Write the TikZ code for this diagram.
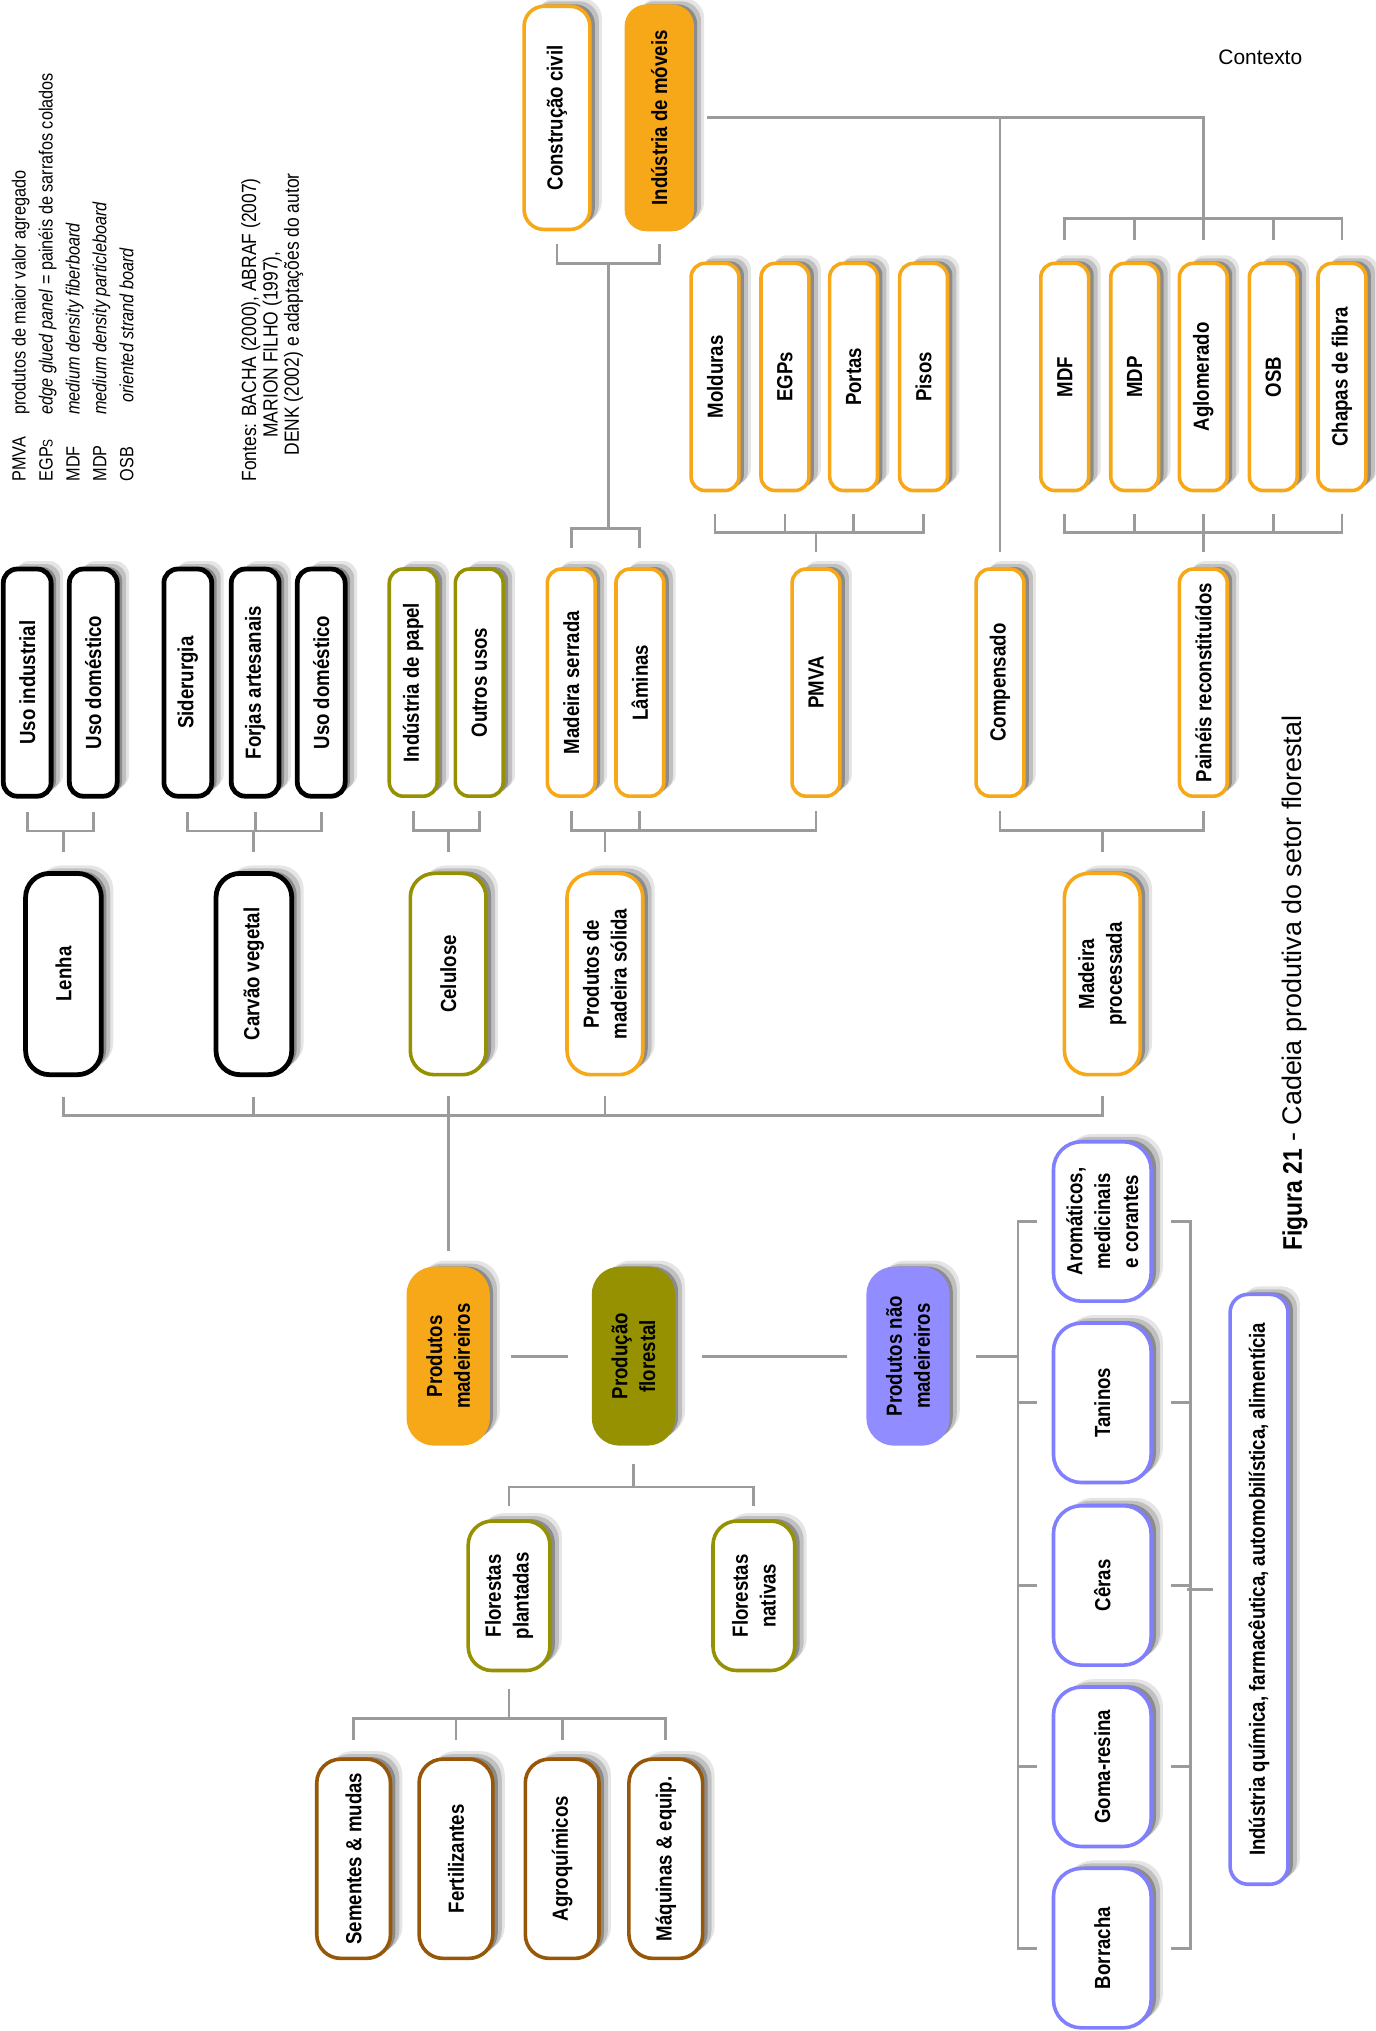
\documentclass[tikz,border=0pt]{standalone}
\usepackage{fontspec}
\setmainfont{Liberation Sans}
\newfontfamily\boxfont[FakeStretch=0.85]{Liberation Sans}
\usepackage{tikz}
\usetikzlibrary{calc,shadows}

\definecolor{laranja}{RGB}{247,168,24}
\definecolor{oliva}{RGB}{150,145,0}
\definecolor{lilas}{RGB}{145,140,255}
\definecolor{lilasb}{RGB}{128,128,255}
\definecolor{marrom}{RGB}{150,88,8}
\definecolor{linha}{RGB}{155,155,155}

\begin{document}
\begin{tikzpicture}[x=0.65pt, y=-0.65pt,
  box/.style={draw, line width=1.8pt, rounded corners=7pt, fill=white, rotate=90,
              align=center, inner sep=1pt, font=\boxfont\bfseries\fontsize{11}{14}\selectfont,
              drop shadow={shadow xshift=6pt, shadow yshift=4pt, opacity=.1, fill=black},
              drop shadow={shadow xshift=4.5pt, shadow yshift=2.5pt, opacity=.16, fill=black},
              drop shadow={shadow xshift=2.5pt, shadow yshift=1pt, opacity=.28, fill=black}},
  szA/.style={minimum width=112pt, minimum height=33pt, rounded corners=10pt},
  szB/.style={minimum width=114pt, minimum height=24pt},
  szC/.style={minimum width=101pt, minimum height=38pt, rounded corners=12pt},
  szD/.style={minimum width=88pt, minimum height=40pt, rounded corners=13pt},
  szF/.style={minimum width=75pt, minimum height=41pt, rounded corners=12pt},
  szI/.style={minimum width=100pt, minimum height=37pt, rounded corners=12pt},
  szP/.style={minimum width=80pt, minimum height=49pt, rounded corners=14pt},
  szL/.style={minimum width=296pt, minimum height=29pt, rounded corners=9pt},
  preto/.style={draw=black, line width=2.4pt},
  conn/.style={draw=linha, line width=1.4pt},
  legenda/.style={rotate=90, inner sep=0pt, font=\boxfont\fontsize{9.6}{13.5}\selectfont}
]
\useasboundingbox (0,0) rectangle (1062,1568);

% siglas e fontes
\node[legenda, anchor=north west] (siglas) at (5,372) {%
  \begin{tabular}{@{}l@{\hspace{11pt}}l@{}}
  PMVA & produtos de maior valor agregado\\
  EGP{\scriptsize S} & \textit{edge glued panel} = painéis de sarrafos colados\\
  MDF & \textit{medium density fiberboard}\\
  MDP & \textit{medium density particleboard}\\
  OSB & \hspace{6pt}\textit{oriented strand board}
  \end{tabular}};
\node[legenda, anchor=north west, align=left, font=\boxfont\fontsize{10.3}{10.7}\selectfont] (fontes) at (186,372)
  {Fontes: BACHA (2000), ABRAF (2007)\\ \hspace*{22pt}MARION FILHO (1997),\\ \hspace*{13pt}DENK (2002) e adaptações do autor};

\node[font=\fontsize{10.5}{12}\selectfont] (contexto) at (973,44) {Contexto};
\node[rotate=90, anchor=base west, inner sep=0pt, font=\fontsize{13.5}{16}\selectfont] (titulo) at (1005,966)
  {{\boxfont\bfseries Figura 21} - Cadeia produtiva do setor florestal};

% contexto
\node[box, szA, draw=laranja] (consciv) at (430,91) {Construção civil};
\node[box, szA, draw=laranja, fill=laranja] (indmov) at (509,91) {Indústria de móveis};

% produtos finais
\node[box, szB, draw=laranja] (mold) at (552,291) {Molduras};
\node[box, szB, draw=laranja] (egps) at (606,291) {EGPs};
\node[box, szB, draw=laranja] (portas) at (659,291) {Portas};
\node[box, szB, draw=laranja] (pisos) at (713,291) {Pisos};
\node[box, szB, draw=laranja] (mdf) at (822,291) {MDF};
\node[box, szB, draw=laranja] (mdp) at (876,291) {MDP};
\node[box, szB, draw=laranja] (aglom) at (929,291) {Aglomerado};
\node[box, szB, draw=laranja] (osb) at (983,291) {OSB};
\node[box, szB, draw=laranja] (chapas) at (1036,291) {Chapas de fibra};

% usos
\node[box, szB, preto] (usoind) at (21,527) {Uso industrial};
\node[box, szB, preto] (usodom) at (72,527) {Uso doméstico};
\node[box, szB, preto] (sider) at (145,527) {Siderurgia};
\node[box, szB, preto] (forjas) at (197,527) {Forjas artesanais};
\node[box, szB, preto] (usodomb) at (248,527) {Uso doméstico};
\node[box, szB, draw=oliva] (papel) at (319,527) {Indústria de papel};
\node[box, szB, draw=oliva] (outros) at (370,527) {Outros usos};
\node[box, szB, draw=laranja] (madserr) at (441,527) {Madeira serrada};
\node[box, szB, draw=laranja] (laminas) at (494,527) {Lâminas};
\node[box, szB, draw=laranja] (pmva) at (630,527) {PMVA};
\node[box, szB, draw=laranja] (compens) at (772,527) {Compensado};
\node[box, szB, draw=laranja] (paineis) at (929,527) {Painéis reconstituídos};

% produtos madeireiros
\node[box, szC, preto] (lenha) at (49,752) {Lenha};
\node[box, szC, preto] (carvao) at (196,752) {Carvão vegetal};
\node[box, szC, draw=oliva] (celulose) at (346,752) {Celulose};
\node[box, szC, draw=laranja] (pmsolida) at (467,752) {Produtos de\\madeira sólida};
\node[box, szC, draw=laranja] (madproc) at (851,752) {Madeira\\processada};

% producao florestal
\node[box, szD, draw=laranja, fill=laranja] (prodmad) at (346,1047) {Produtos\\madeireiros};
\node[box, szD, draw=oliva, fill=oliva] (prodflor) at (489,1047) {Produção\\florestal};
\node[box, szD, draw=lilas, fill=lilas] (prodnmad) at (701,1047) {Produtos não\\madeireiros};

\node[box, szF, draw=oliva] (florplant) at (393,1232) {Florestas\\plantadas};
\node[box, szF, draw=oliva] (flornat) at (582,1232) {Florestas\\nativas};

\node[box, szI, draw=marrom] (sementes) at (273,1435) {Sementes \& mudas};
\node[box, szI, draw=marrom] (fert) at (352,1435) {Fertilizantes};
\node[box, szI, draw=marrom] (agro) at (434,1435) {Agroquímicos};
\node[box, szI, draw=marrom] (maq) at (514,1435) {Máquinas \& equip.};

% nao madeireiros
\node[box, szP, draw=lilasb] (arom) at (851,943) {Aromáticos,\\medicinais\\e corantes};
\node[box, szP, draw=lilasb] (taninos) at (851,1083) {Taninos};
\node[box, szP, draw=lilasb] (ceras) at (851,1224) {Cêras};
\node[box, szP, draw=lilasb] (goma) at (851,1364) {Goma-resina};
\node[box, szP, draw=lilasb] (borracha) at (851,1504) {Borracha};
\node[box, szL, draw=lilasb] (industria) at (972,1227) {Indústria química, farmacêutica, automobilística, alimentícia};

% ligacoes do contexto
\draw[conn] ($(consciv.west)+(0,10)$) |- ($(indmov.west)+(0,25)$) -- ($(indmov.west)+(0,10)$);
\coordinate (cv) at ($(consciv.west)!.5!(indmov.west)+(0,25)$);
\draw[conn] ($(madserr.east)+(0,-15)$) |- ($(laminas.east)+(0,-30)$) -- ($(laminas.east)+(0,-15)$);
\draw[conn] (cv) -- ($(cv |- laminas.east)+(0,-30)$);
\draw[conn] ($(indmov.south)+(10,0)$) -| ($(aglom.east)+(0,-33)$);
\draw[conn] (compens.east |- indmov.south) -- ($(compens.east)+(0,-12)$);

\draw[conn] ($(mdf.east)+(0,-17)$) |- ($(chapas.east)+(0,-33)$) -- ($(chapas.east)+(0,-17)$);
\draw[conn] ($(mdp.east)+(0,-17)$) -- ++(0,-16);
\draw[conn] ($(aglom.east)+(0,-17)$) -- ++(0,-16);
\draw[conn] ($(osb.east)+(0,-17)$) -- ++(0,-16);

% PMVA e paineis
\draw[conn] ($(mold.west)+(0,17)$) |- ($(pisos.west)+(0,31)$) -- ($(pisos.west)+(0,17)$);
\draw[conn] ($(egps.west)+(0,17)$) -- ++(0,14);
\draw[conn] ($(portas.west)+(0,17)$) -- ++(0,14);
\draw[conn] ($(pmva.east)+(0,-12)$) -- ($(pmva.east |- pisos.west)+(0,31)$);

\draw[conn] ($(mdf.west)+(0,17)$) |- ($(chapas.west)+(0,31)$) -- ($(chapas.west)+(0,17)$);
\draw[conn] ($(mdp.west)+(0,17)$) -- ++(0,14);
\draw[conn] ($(aglom.west)+(0,17)$) -- ++(0,14);
\draw[conn] ($(osb.west)+(0,17)$) -- ++(0,14);
\draw[conn] ($(paineis.east)+(0,-12)$) -- ($(paineis.east |- chapas.west)+(0,31)$);

% usos -> produtos madeireiros
\draw[conn] ($(usoind.west)+(0,10)$) |- ($(usodom.west)+(0,25)$) -- ($(usodom.west)+(0,10)$);
\draw[conn] ($(lenha.east)+(0,-15)$) -- ($(lenha.east |- usodom.west)+(0,25)$);

\draw[conn] ($(sider.west)+(0,10)$) |- ($(usodomb.west)+(0,25)$) -- ($(usodomb.west)+(0,10)$);
\draw[conn] ($(forjas.west)+(0,10)$) -- ++(0,15);
\draw[conn] ($(carvao.east)+(0,-15)$) -- ($(carvao.east |- forjas.west)+(0,25)$);

\draw[conn] ($(papel.west)+(0,10)$) |- ($(outros.west)+(0,25)$) -- ($(outros.west)+(0,10)$);
\draw[conn] ($(celulose.east)+(0,-15)$) -- ($(celulose.east |- outros.west)+(0,25)$);

\draw[conn] ($(madserr.west)+(0,10)$) |- ($(pmva.west)+(0,25)$) -- ($(pmva.west)+(0,10)$);
\draw[conn] ($(laminas.west)+(0,10)$) -- ++(0,15);
\draw[conn] ($(pmsolida.east)+(0,-15)$) -- ($(pmsolida.east |- pmva.west)+(0,25)$);

\draw[conn] ($(compens.west)+(0,10)$) |- ($(paineis.west)+(0,25)$) -- ($(paineis.west)+(0,10)$);
\draw[conn] ($(madproc.east)+(0,-15)$) -- ($(madproc.east |- paineis.west)+(0,25)$);

% produtos madeireiros -> producao
\draw[conn] ($(lenha.west)+(0,15)$) |- ($(madproc.west)+(0,30)$) -- ($(madproc.west)+(0,15)$);
\draw[conn] ($(carvao.west)+(0,15)$) -- ++(0,15);
\draw[conn] ($(celulose.west)+(0,15)$) -- ++(0,15);
\draw[conn] ($(pmsolida.west)+(0,15)$) -- ++(0,15);
\draw[conn] ($(celulose.west)+(0,30)$) -- ($(prodmad.east)+(0,-12)$);

\draw[conn] ($(prodmad.south)+(16,0)$) -- ($(prodflor.north)+(-18,0)$);
\draw[conn] ($(prodflor.south)+(21,0)$) -- ($(prodnmad.north)+(-15,0)$);
\draw[conn] ($(prodnmad.south)+(20,0)$) -- ($(prodnmad.south -| arom.north)+(-26,0)$);

% nao madeireiros
\draw[conn] ($(arom.north)+(-11,0)$) -| ($(borracha.north)+(-26,0)$) -- ($(borracha.north)+(-11,0)$);
\draw[conn] ($(taninos.north)+(-11,0)$) -- ++(-15,0);
\draw[conn] ($(ceras.north)+(-11,0)$) -- ++(-15,0);
\draw[conn] ($(goma.north)+(-11,0)$) -- ++(-15,0);
\draw[conn] ($(arom.south)+(14,0)$) -| ($(borracha.south)+(29,0)$) -- ($(borracha.south)+(14,0)$);
\draw[conn] ($(taninos.south)+(14,0)$) -- ++(15,0);
\draw[conn] ($(ceras.south)+(14,0)$) -- ++(15,0);
\draw[conn] ($(goma.south)+(14,0)$) -- ++(15,0);
\draw[conn] ($(industria.north)+(-12,0)$) -- ($(industria.north)+(-32,0)$);

% florestas e insumos
\draw[conn] ($(prodflor.west)+(0,14)$) -- ($(prodflor.west |- flornat.east)+(0,-25)$);
\draw[conn] ($(florplant.east)+(0,-10)$) |- ($(flornat.east)+(0,-25)$) -- ($(flornat.east)+(0,-10)$);
\draw[conn] ($(florplant.west)+(0,13)$) -- ($(florplant.west |- sementes.east)+(0,-30)$);
\draw[conn] ($(sementes.east)+(0,-13)$) |- ($(maq.east)+(0,-30)$) -- ($(maq.east)+(0,-13)$);
\draw[conn] ($(fert.east)+(0,-13)$) -- ++(0,-17);
\draw[conn] ($(agro.east)+(0,-13)$) -- ++(0,-17);
\end{tikzpicture}
\end{document}
